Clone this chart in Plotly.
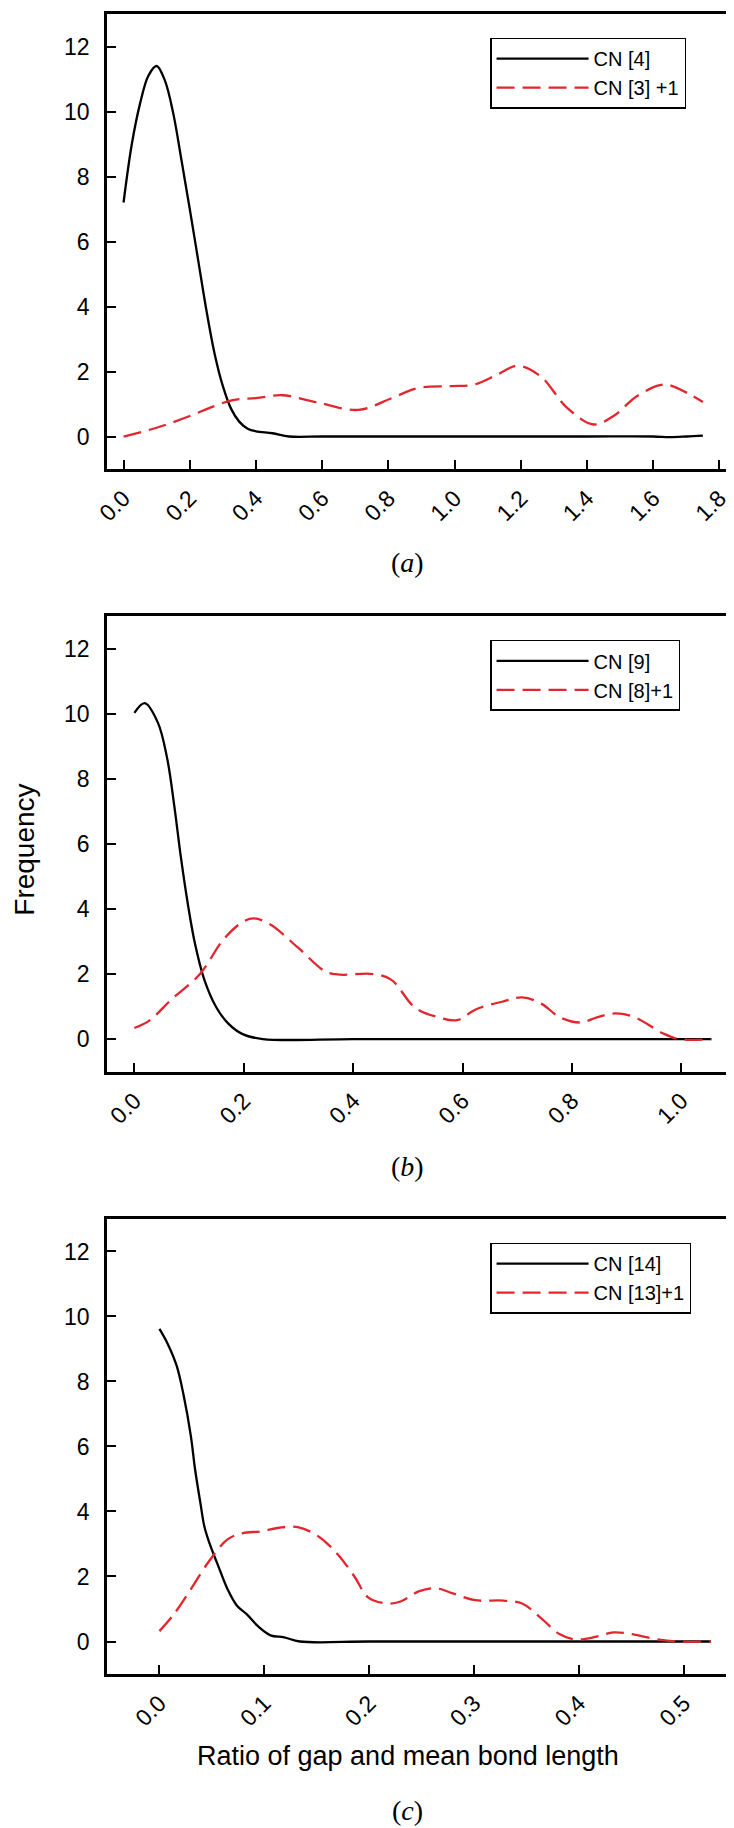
import plotly.graph_objects as go

# ---------------- data ----------------
# Panel (a)
a_cn4_x = [0, 0.025, 0.05, 0.075, 0.1, 0.125, 0.15, 0.175, 0.2, 0.225, 0.25, 0.275, 0.3,
           0.325, 0.35, 0.375, 0.4, 0.45, 0.5, 0.6, 0.8, 1.0, 1.2, 1.4, 1.6, 1.65, 1.7, 1.75]
a_cn4_y = [7.2, 9.0, 10.25, 11.1, 11.4, 10.95, 9.95, 8.5, 7.0, 5.45, 3.9, 2.55, 1.55,
           0.85, 0.45, 0.24, 0.16, 0.1, 0.0, 0.0, 0.0, 0.0, 0.0, 0.0, 0.0, -0.02, 0.0, 0.03]
a_cn3_x = [0, 0.1, 0.2, 0.26, 0.33, 0.4, 0.48, 0.58, 0.71, 0.81, 0.89, 0.99, 1.06, 1.13,
           1.19, 1.26, 1.34, 1.42, 1.48, 1.55, 1.62, 1.65, 1.71, 1.75]
a_cn3_y = [0, 0.27, 0.63, 0.88, 1.12, 1.18, 1.27, 1.06, 0.82, 1.18, 1.49, 1.55, 1.6, 1.91,
           2.18, 1.85, 0.88, 0.37, 0.63, 1.24, 1.58, 1.58, 1.3, 1.06]

# Panel (b)
b_cn9_x = [0, 0.019, 0.043, 0.06, 0.073, 0.085, 0.098, 0.111, 0.128, 0.15, 0.171, 0.197,
           0.235, 0.4, 0.6, 0.8, 1.0, 1.055]
b_cn9_y = [10.03, 10.33, 9.73, 8.63, 7.17, 5.6, 4.13, 2.92, 1.82, 0.97, 0.49, 0.16,
           0, 0, 0, 0, 0, 0]
b_cn8_x = [0, 0.026, 0.068, 0.12, 0.162, 0.197, 0.218, 0.248, 0.3, 0.35, 0.376, 0.436, 0.47,
           0.513, 0.556, 0.59, 0.624, 0.675, 0.709, 0.744, 0.778, 0.816, 0.846, 0.88, 0.915,
           0.966, 0.996, 1.055]
b_cn8_y = [0.34, 0.55, 1.22, 2.0, 3.04, 3.59, 3.71, 3.53, 2.8, 2.07, 1.98, 2.0, 1.82,
           0.97, 0.67, 0.58, 0.91, 1.16, 1.28, 1.09, 0.67, 0.51, 0.67, 0.79, 0.67,
           0.18, 0, 0]

# Panel (c)
c_cn14_x = [0, 0.0076, 0.0165, 0.023, 0.03, 0.034, 0.039, 0.043, 0.048, 0.057, 0.065, 0.074,
            0.083, 0.094, 0.106, 0.119, 0.134, 0.2, 0.3, 0.4, 0.5, 0.526]
c_cn14_y = [9.62, 9.18, 8.48, 7.59, 6.32, 5.3, 4.28, 3.52, 3.0, 2.25, 1.61, 1.1,
            0.85, 0.47, 0.19, 0.13, 0, 0, 0, 0, 0, 0]
c_cn13_x = [0, 0.014, 0.03, 0.048, 0.065, 0.079, 0.097, 0.114, 0.132, 0.15, 0.168, 0.186,
            0.199, 0.217, 0.23, 0.248, 0.264, 0.279, 0.301, 0.328, 0.346, 0.364, 0.382,
            0.397, 0.417, 0.433, 0.448, 0.471, 0.493, 0.526]
c_cn13_y = [0.32, 0.85, 1.61, 2.5, 3.14, 3.33, 3.39, 3.5, 3.52, 3.27, 2.76, 2.0,
            1.36, 1.17, 1.23, 1.55, 1.64, 1.49, 1.27, 1.26, 1.17, 0.72, 0.22,
            0.06, 0.15, 0.28, 0.24, 0.09, 0, 0]

series_names = [["CN [4]", "CN [3] +1"], ["CN [9]", "CN [8]+1"], ["CN [14]", "CN [13]+1"]]
panel_labels = ["(<i>a</i>)", "(<i>b</i>)", "(<i>c</i>)"]
x_ranges = [[-0.05, 1.85], [-0.05, 1.1], [-0.05, 0.55]]
x_dticks = [0.2, 0.2, 0.1]
y_ticks = [0, 2, 4, 6, 8, 10, 12]
x_title = "Ratio of gap and mean bond length"
y_title = "Frequency"

# ---------------- styling ----------------
W, H = 734, 1828
M_L, M_R, M_T, M_B = 99, 3, 6, 162
SANS = "Liberation Sans, Arial, sans-serif"
SERIF = "Liberation Serif, Times New Roman, serif"
RED = "#e3262d"

domains = [[0.7259, 1.0], [0.3629, 0.6372], [0.0, 0.2741]]

panels = [
    (a_cn4_x, a_cn4_y, a_cn3_x, a_cn3_y),
    (b_cn9_x, b_cn9_y, b_cn8_x, b_cn8_y),
    (c_cn14_x, c_cn14_y, c_cn13_x, c_cn13_y),
]

fig = go.Figure()
legend_keys = ["legend", "legend2", "legend3"]

for i, (bx, by, rx, ry) in enumerate(panels):
    xa = "x" if i == 0 else f"x{i+1}"
    ya = "y" if i == 0 else f"y{i+1}"
    fig.add_trace(go.Scatter(
        x=bx, y=by, mode="lines", name=series_names[i][0],
        line=dict(color="black", width=2.3, shape="spline", smoothing=1.0),
        xaxis=xa, yaxis=ya, legend=legend_keys[i]))
    fig.add_trace(go.Scatter(
        x=rx, y=ry, mode="lines", name=series_names[i][1],
        line=dict(color=RED, width=2.3, dash="18px,8px", shape="spline", smoothing=1.0),
        xaxis=xa, yaxis=ya, legend=legend_keys[i]))

axis_common = dict(
    showline=True, linecolor="black", linewidth=2.5, mirror=True,
    ticks="inside", ticklen=9, tickwidth=2.3, tickcolor="black",
    showgrid=False, zeroline=False,
    tickfont=dict(family=SANS, size=23, color="black"),
)

layout = dict(
    width=W, height=H,
    margin=dict(l=M_L, r=M_R, t=M_T, b=M_B),
    paper_bgcolor="white", plot_bgcolor="white",
    showlegend=True,
    font=dict(family=SANS, color="black"),
)

for i in range(3):
    xk = "xaxis" if i == 0 else f"xaxis{i+1}"
    yk = "yaxis" if i == 0 else f"yaxis{i+1}"
    ya = "y" if i == 0 else f"y{i+1}"
    xa = "x" if i == 0 else f"x{i+1}"
    layout[xk] = dict(axis_common, domain=[0, 1], anchor=ya, range=x_ranges[i],
                      tick0=0, dtick=x_dticks[i], tickformat=".1f", tickangle=-45,
                      ticklabelstandoff=4)
    layout[yk] = dict(axis_common, domain=domains[i], anchor=xa, range=[-1, 13],
                      tickvals=y_ticks, ticklabelstandoff=10)
    lk = legend_keys[i]
    layout[lk] = dict(
        x=0.609, xanchor="left", y=domains[i][1] - 0.0142, yanchor="top",
        bgcolor="white", bordercolor="black", borderwidth=1.5,
        font=dict(family=SANS, size=20, color="black"),
        itemwidth=92, tracegroupgap=0,
    )

fig.update_layout(**layout)

annotations = []
label_y = [0.6694, 0.3059, -0.0821]
for i in range(3):
    annotations.append(dict(
        text=panel_labels[i], xref="paper", yref="paper", x=0.478, y=label_y[i],
        showarrow=False, xanchor="center", yanchor="middle",
        font=dict(family=SERIF, size=28, color="black")))
annotations.append(dict(
    text=x_title, xref="paper", yref="paper", x=0.478, y=-0.0496,
    showarrow=False, xanchor="center", yanchor="middle",
    font=dict(family=SANS, size=27, color="black")))
annotations.append(dict(
    text=y_title, xref="paper", yref="paper", x=-0.1313, y=0.4968,
    showarrow=False, xanchor="center", yanchor="middle", textangle=-90,
    font=dict(family=SANS, size=28, color="black")))
fig.update_layout(annotations=annotations)

fig.write_html("out.html")
